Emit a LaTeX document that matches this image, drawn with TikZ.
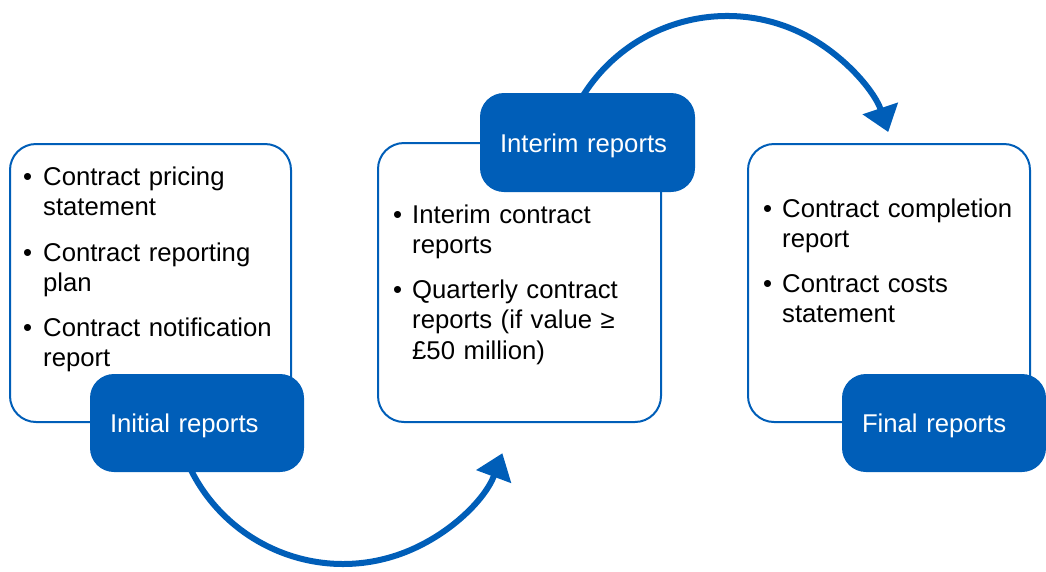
\documentclass[tikz,border=0pt]{standalone}
\usepackage{fontspec}
\setmainfont{Liberation Sans}
\usetikzlibrary{arrows.meta}
\definecolor{nblue}{RGB}{0,94,184}
\newcommand\dfbody{\fontsize{25.7pt}{30.5pt}\selectfont}
\begin{document}
\begin{tikzpicture}[x=1pt,y=-1pt,
  whitebox/.style={draw=nblue, line width=2pt, rounded corners=26pt, fill=white, inner sep=0pt},
  bluebox/.style={fill=nblue, rounded corners=24pt, text=white, font=\dfbody, align=left,
    inner xsep=20pt, inner ysep=0pt, minimum height=98pt, text height=19pt, text depth=0pt},
  itemtext/.style={anchor=base west, inner sep=0pt, align=left, text width=245pt, font=\dfbody},
  bulletmark/.style={anchor=base west, inner sep=0pt, font=\dfbody},
  flow/.style={draw=nblue, line width=6pt, -{Triangle[length=25pt,width=36pt]}}]
\useasboundingbox (0,0) rectangle (1046,571);

% arcs
\coordinate (a1s) at (183.3,452.1);
\coordinate (a2s) at (579.8,101);
\draw[flow] (a1s) arc[start angle=160, end angle=20.4, radius=170];
\draw[flow] (a2s) arc[start angle=-150, end angle=-18.5, radius=170];

% white boxes
\node[whitebox, minimum width=281pt, minimum height=278pt] (lb) at (150.5,283) {};
\node[whitebox, minimum width=283pt, minimum height=279pt] (mb) at (519.5,282.5) {};
\node[whitebox, minimum width=282pt, minimum height=278pt] (rb) at (889,283) {};

% left items
\node[bulletmark] (lb1) at (23,185) {•};
\node[itemtext] (lt1) at (43,185) {Contract pricing\\statement};
\node[bulletmark] (lb2) at (23,261) {•};
\node[itemtext] (lt2) at (43,261) {Contract reporting\\plan};
\node[bulletmark] (lb3) at (23,336) {•};
\node[itemtext] (lt3) at (43,336) {Contract notification\\report};

% middle items
\node[bulletmark] (mb1) at (393,223) {•};
\node[itemtext] (mt1) at (412,223) {Interim contract\\reports};
\node[bulletmark] (mb2) at (393,298) {•};
\node[itemtext] (mt2) at (412,298) {Quarterly contract\\reports (if value ≥\\£50 million)};

% right items
\node[bulletmark] (rb1) at (763,217) {•};
\node[itemtext] (rt1) at (782,217) {Contract completion\\report};
\node[bulletmark] (rb2) at (763,292) {•};
\node[itemtext] (rt2) at (782,292) {Contract costs\\statement};

% blue labels
\node[bluebox, minimum width=214pt, text width=174pt] (ib) at (197,423) {Initial reports};
\node[bluebox, minimum width=215pt, text width=175pt, minimum height=99pt] (imb) at (587.5,142.5) {Interim reports};
\node[bluebox, minimum width=204pt, text width=164pt] (fb) at (944,423) {Final reports};
\end{tikzpicture}
\end{document}
